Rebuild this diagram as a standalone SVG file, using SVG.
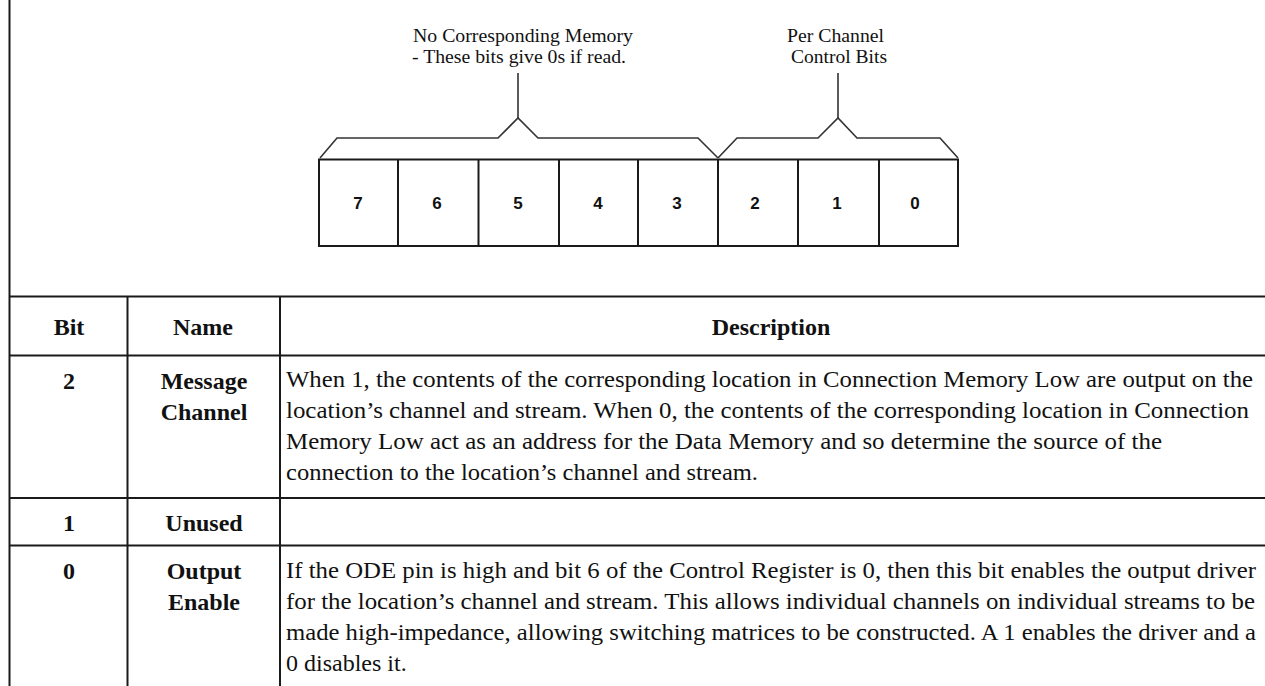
<svg xmlns="http://www.w3.org/2000/svg" width="1265" height="686" viewBox="0 0 1265 686">
<style>
  .ln { stroke: #1a1a1a; stroke-width: 2; fill: none; }
  .br { stroke: #333; stroke-width: 1.6; fill: none; stroke-linejoin: miter; }
  .lbl { font-family: "Liberation Serif", "Times New Roman", serif; font-size: 18px; fill: #111; }
  .dig { font-family: "Liberation Sans", Arial, sans-serif; font-size: 17px; font-weight: bold; fill: #111; text-anchor: middle; }
  .hd { font-family: "Liberation Serif", "Times New Roman", serif; font-size: 24px; font-weight: bold; fill: #111; text-anchor: middle; }
  .tx { font-family: "Liberation Serif", "Times New Roman", serif; font-size: 24px; fill: #111; }
</style>
<rect width="1265" height="686" fill="#fff"/>

<g id="register">
  <rect class="ln" x="319" y="159.5" width="639" height="86.5"/>
  <line class="ln" x1="398" y1="159.5" x2="398" y2="246"/>
  <line class="ln" x1="478.5" y1="159.5" x2="478.5" y2="246"/>
  <line class="ln" x1="559" y1="159.5" x2="559" y2="246"/>
  <line class="ln" x1="638" y1="159.5" x2="638" y2="246"/>
  <line class="ln" x1="718" y1="159.5" x2="718" y2="246"/>
  <line class="ln" x1="798" y1="159.5" x2="798" y2="246"/>
  <line class="ln" x1="879" y1="159.5" x2="879" y2="246"/>
  <text class="dig" x="358" y="209">7</text>
  <text class="dig" x="437" y="209">6</text>
  <text class="dig" x="518" y="209">5</text>
  <text class="dig" x="598" y="209">4</text>
  <text class="dig" x="677" y="209">3</text>
  <text class="dig" x="755" y="209">2</text>
  <text class="dig" x="837" y="209">1</text>
  <text class="dig" x="915" y="209">0</text>
</g>

<g id="label-no-memory">
  <text class="lbl" x="413" y="42" textLength="220" lengthAdjust="spacingAndGlyphs">No Corresponding Memory</text>
  <text class="lbl" x="412" y="63" textLength="214" lengthAdjust="spacingAndGlyphs">- These bits give 0s if read.</text>
</g>
<g id="label-per-channel">
  <text class="lbl" x="787" y="42" textLength="97" lengthAdjust="spacingAndGlyphs">Per Channel</text>
  <text class="lbl" x="791" y="63" textLength="96" lengthAdjust="spacingAndGlyphs">Control Bits</text>
</g>

<g id="connectors">
  <polyline class="br" points="320,158 337,138 498,138 518,118 538,138 698,138 718,158"/>
  <polyline class="br" points="718,158 737,138 818,138 838,118 857,138 940,138 958,158"/>
  <line class="br" x1="518" y1="73" x2="518" y2="118"/>
  <line class="br" x1="838" y1="73" x2="838" y2="118"/>
</g>

<g id="table">
  <line class="ln" x1="9.5" y1="0" x2="9.5" y2="686"/>
  <line class="ln" x1="9.5" y1="296.5" x2="1265" y2="296.5"/>
  <line class="ln" x1="9.5" y1="355.5" x2="1265" y2="355.5"/>
  <line class="ln" x1="9.5" y1="498" x2="1265" y2="498"/>
  <line class="ln" x1="9.5" y1="545.5" x2="1265" y2="545.5"/>
  <line class="ln" x1="127.5" y1="296.5" x2="127.5" y2="686"/>
  <line class="ln" x1="280" y1="296.5" x2="280" y2="686"/>
</g>

<g id="header-row">
  <text class="hd" x="69" y="335">Bit</text>
  <text class="hd" x="203" y="335">Name</text>
  <text class="hd" x="771" y="335">Description</text>
</g>

<g id="row-bit2">
  <text class="hd" x="69" y="389">2</text>
  <text class="hd" x="204" y="389">Message</text>
  <text class="hd" x="204" y="420">Channel</text>
  <text class="tx" x="286" y="387" textLength="967" lengthAdjust="spacingAndGlyphs">When 1, the contents of the corresponding location in Connection Memory Low are output on the</text>
  <text class="tx" x="286" y="418" textLength="963" lengthAdjust="spacingAndGlyphs">location’s channel and stream. When 0, the contents of the corresponding location in Connection</text>
  <text class="tx" x="286" y="449" textLength="876" lengthAdjust="spacingAndGlyphs">Memory Low act as an address for the Data Memory and so determine the source of the</text>
  <text class="tx" x="286" y="480" textLength="472" lengthAdjust="spacingAndGlyphs">connection to the location’s channel and stream.</text>
</g>

<g id="row-bit1">
  <text class="hd" x="69" y="531">1</text>
  <text class="hd" x="204" y="531">Unused</text>
</g>

<g id="row-bit0">
  <text class="hd" x="69" y="579">0</text>
  <text class="hd" x="204" y="579">Output</text>
  <text class="hd" x="204" y="610">Enable</text>
  <text class="tx" x="286" y="578" textLength="970" lengthAdjust="spacingAndGlyphs">If the ODE pin is high and bit 6 of the Control Register is 0, then this bit enables the output driver</text>
  <text class="tx" x="286" y="609" textLength="969" lengthAdjust="spacingAndGlyphs">for the location’s channel and stream. This allows individual channels on individual streams to be</text>
  <text class="tx" x="286" y="640" textLength="970" lengthAdjust="spacingAndGlyphs">made high-impedance, allowing switching matrices to be constructed. A 1 enables the driver and a</text>
  <text class="tx" x="286" y="671">0 disables it.</text>
</g>
</svg>
